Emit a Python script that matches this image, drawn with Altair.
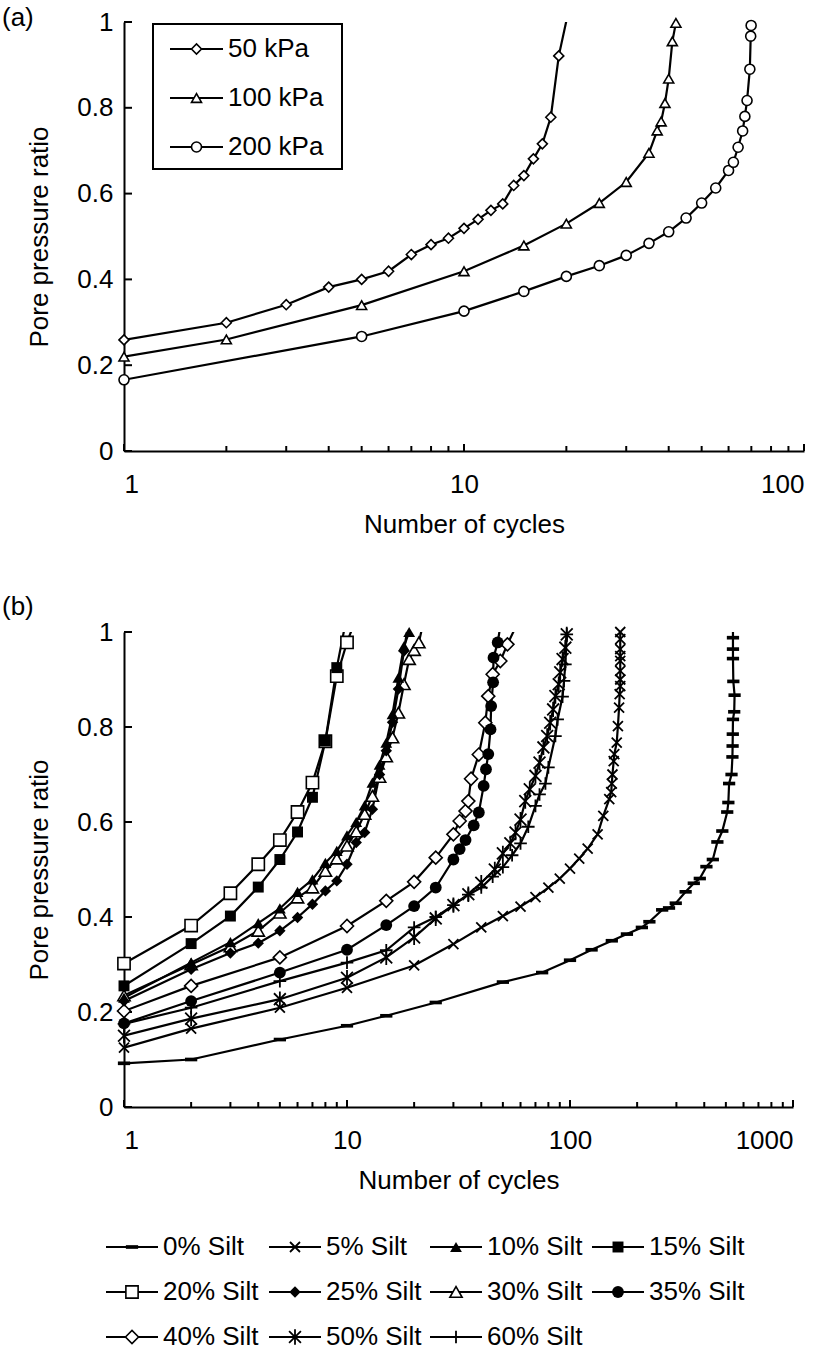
import altair as alt
import pandas as pd

FONT = "Liberation Sans"
FS = 26

# ---------------- (a) confining pressure series ----------------
press_labels = ["50 kPa", "100 kPa", "200 kPa"]
press_shapes = ["diamond", "triangle-up", "circle"]

n_50 = [1, 2, 3, 4, 5, 6, 7, 8, 9, 10, 11, 12, 13, 14, 15, 16, 17, 18, 19, 21]
r_50 = [0.259, 0.299, 0.341, 0.382, 0.400, 0.419, 0.458, 0.481, 0.496, 0.519,
        0.540, 0.561, 0.576, 0.619, 0.642, 0.681, 0.716, 0.778, 0.921, 1.08]
n_100 = [1, 2, 5, 10, 15, 20, 25, 30, 35, 37, 38, 39, 40, 41, 42]
r_100 = [0.220, 0.260, 0.340, 0.419, 0.479, 0.530, 0.578, 0.627, 0.695, 0.747,
         0.768, 0.811, 0.868, 0.955, 0.998]
n_200 = [1, 5, 10, 15, 20, 25, 30, 35, 40, 45, 50, 55, 60, 62, 64, 66, 67, 68,
         69.3, 69.7, 69.9]
r_200 = [0.166, 0.267, 0.326, 0.372, 0.407, 0.432, 0.456, 0.484, 0.511, 0.543,
         0.578, 0.613, 0.654, 0.673, 0.708, 0.746, 0.780, 0.817, 0.890, 0.967, 0.992]

# ---------------- (b) silt content series ----------------
silt_labels = ["0% Silt", "5% Silt", "10% Silt", "15% Silt", "20% Silt", "25% Silt",
               "30% Silt", "35% Silt", "40% Silt", "50% Silt", "60% Silt"]

n_s0 = [1, 2, 5, 10, 15, 25, 50, 75, 100, 125, 154, 180, 210, 227, 259, 278, 298,
        330, 359, 382, 409, 437, 458, 482, 507, 513, 517, 530, 535, 536, 537, 538,
        545, 547, 540, 538, 538, 538, 538]
r_s0 = [0.092, 0.100, 0.142, 0.171, 0.192, 0.220, 0.263, 0.283, 0.309, 0.331, 0.350,
        0.364, 0.378, 0.390, 0.415, 0.419, 0.429, 0.453, 0.471, 0.481, 0.506, 0.521,
        0.558, 0.581, 0.621, 0.641, 0.681, 0.700, 0.737, 0.760, 0.785, 0.816, 0.832,
        0.867, 0.896, 0.944, 0.964, 0.988, 1.03]
n_s5 = [1, 2, 5, 10, 20, 30, 40, 50, 60, 70, 80, 90, 100, 110, 120, 133, 141, 150,
        153, 154, 155, 157, 158, 162, 164, 166, 167, 168, 168, 168, 168, 168, 168,
        168, 168]
r_s5 = [0.125, 0.165, 0.209, 0.251, 0.298, 0.343, 0.378, 0.402, 0.422, 0.442, 0.462,
        0.481, 0.502, 0.523, 0.544, 0.574, 0.613, 0.648, 0.663, 0.681, 0.700, 0.728,
        0.743, 0.767, 0.802, 0.841, 0.869, 0.886, 0.900, 0.918, 0.939, 0.949, 0.964,
        0.985, 1.0]
n_s10 = [1, 2, 3, 4, 5, 6, 7, 8, 9, 10, 11, 12, 13, 14, 15, 16, 17, 18, 19]
r_s10 = [0.230, 0.304, 0.347, 0.387, 0.418, 0.453, 0.479, 0.514, 0.539, 0.572,
         0.600, 0.635, 0.683, 0.721, 0.767, 0.827, 0.904, 0.970, 1.0]
n_s15 = [1, 2, 3, 4, 5, 6, 7, 8, 9, 10]
r_s15 = [0.255, 0.344, 0.402, 0.463, 0.521, 0.579, 0.652, 0.771, 0.925, 1.035]
n_s20 = [1, 2, 3, 4, 5, 6, 7, 8, 9, 10, 11]
r_s20 = [0.302, 0.382, 0.450, 0.511, 0.562, 0.621, 0.683, 0.770, 0.907, 0.978, 1.03]
n_s25 = [1, 2, 3, 4, 5, 6, 7, 8, 9, 10, 11, 12, 13, 14, 15, 16, 17, 18, 19]
r_s25 = [0.223, 0.290, 0.324, 0.345, 0.371, 0.399, 0.427, 0.455, 0.476, 0.511,
         0.557, 0.578, 0.627, 0.700, 0.750, 0.810, 0.880, 0.960, 1.03]
n_s30 = [1, 2, 3, 4, 5, 6, 7, 8, 9, 10, 11, 12, 13, 14, 15, 16, 17, 18, 19, 20, 21, 22]
r_s30 = [0.235, 0.300, 0.338, 0.371, 0.409, 0.441, 0.462, 0.497, 0.523, 0.550,
         0.580, 0.617, 0.655, 0.695, 0.738, 0.778, 0.830, 0.890, 0.943, 0.962,
         0.978, 1.02]
n_s35 = [1, 2, 5, 10, 15, 20, 25, 30, 32, 34, 37, 39, 41, 42, 43, 44, 44.3, 45.2,
         45.4, 47.4, 49]
r_s35 = [0.176, 0.223, 0.283, 0.331, 0.383, 0.423, 0.462, 0.521, 0.543, 0.562,
         0.593, 0.620, 0.676, 0.711, 0.743, 0.795, 0.844, 0.894, 0.946, 0.978, 1.02]
n_s40 = [1, 2, 5, 10, 15, 20, 25, 30, 32, 34, 35, 36, 39, 41.7, 43, 45, 48.7,
         52.4, 57]
r_s40 = [0.202, 0.255, 0.315, 0.381, 0.434, 0.474, 0.525, 0.574, 0.602, 0.623,
         0.644, 0.691, 0.742, 0.809, 0.865, 0.911, 0.939, 0.974, 1.01]
n_s50 = [1, 2, 5, 10, 15, 20, 25, 30, 35, 40, 46, 50, 54, 57, 60, 63, 66, 70, 73,
         76, 79, 81.5, 84, 86, 89, 90.4, 92.6, 95.3, 96.7]
r_s50 = [0.150, 0.186, 0.227, 0.272, 0.315, 0.357, 0.397, 0.425, 0.448, 0.472,
         0.500, 0.534, 0.555, 0.578, 0.605, 0.644, 0.669, 0.697, 0.725, 0.757,
         0.781, 0.809, 0.837, 0.865, 0.890, 0.915, 0.943, 0.967, 0.995]
n_s60 = [1, 2, 5, 10, 15, 20, 25, 30, 35, 40, 45, 50, 55, 60, 65, 70, 73, 77.6,
         80, 86, 88, 92.6, 94, 95.3, 96.7]
r_s60 = [0.175, 0.209, 0.265, 0.304, 0.330, 0.378, 0.400, 0.425, 0.447, 0.462,
         0.485, 0.505, 0.530, 0.555, 0.590, 0.634, 0.658, 0.681, 0.715, 0.781,
         0.816, 0.864, 0.897, 0.932, 0.995]

# axis tick positions
y_ticks = [0, 0.2, 0.4, 0.6, 0.8, 1]
xa_major = [1, 10, 100]
xa_minor = [2, 3, 4, 5, 6, 7, 8, 9, 20, 30, 40, 50, 60, 70, 80, 90]
xb_major = [1, 10, 100, 1000]
xb_minor = xa_minor + [200, 300, 400, 500, 600, 700, 800, 900]

# marker glyphs
DASH = "M-1,-0.3H1V0.3H-1Z"
XMARK = "M-1,-1L1,1M-1,1L1,-1"
ASTER = "M-1,-1L1,1M-1,1L1,-1M0,-1.3V1.3"
PLUS = "M0,-1V1M-1,0H1"
silt_shapes = [DASH, XMARK, "triangle-up", "square", "square", "diamond",
               "triangle-up", "circle", "diamond", ASTER, PLUS]
silt_kind = ["solid", "stroke", "solid", "solid", "open", "solid", "open", "solid",
             "open", "stroke", "stroke"]
silt_size = [150, 100, 140, 120, 150, 130, 150, 140, 170, 140, 160]


def long_frame(names, ns, rs):
    rows = []
    for name, n_list, r_list in zip(names, ns, rs):
        for i, (n, r) in enumerate(zip(n_list, r_list)):
            rows.append({"series": name, "N": n, "ratio": r, "seq": i})
    return pd.DataFrame(rows)


df_a = long_frame(press_labels, [n_50, n_100, n_200], [r_50, r_100, r_200])
df_b = long_frame(silt_labels,
                  [n_s0, n_s5, n_s10, n_s15, n_s20, n_s25, n_s30, n_s35, n_s40, n_s50, n_s60],
                  [r_s0, r_s5, r_s10, r_s15, r_s20, r_s25, r_s30, r_s35, r_s40, r_s50, r_s60])
kind_of = dict(zip(silt_labels, silt_kind))
size_of = dict(zip(silt_labels, silt_size))
df_b["kind"] = df_b["series"].map(kind_of)
df_b["msize"] = df_b["series"].map(size_of)

WA, HA = 680, 429
WB, HB = 669, 475


def axes_frame(domain_x, major, minor, height, tag_text, tag_y):
    x_enc = alt.X("N:Q", scale=alt.Scale(type="log", domain=domain_x),
                  axis=alt.Axis(values=major, format="d", title="Number of cycles",
                                labelPadding=20, titlePadding=14))
    y_enc = alt.Y("ratio:Q", scale=alt.Scale(domain=[0, 1]),
                  axis=alt.Axis(values=y_ticks, format="~g", title="Pore pressure ratio",
                                labelPadding=11, titlePadding=24))
    tick_major = alt.Chart(pd.DataFrame({"N": major})).mark_rule(
        color="black", strokeWidth=2).encode(
        x=x_enc, y=alt.value(height), y2=alt.value(height - 7))
    tick_minor = alt.Chart(pd.DataFrame({"N": minor})).mark_rule(
        color="black", strokeWidth=2).encode(
        x=x_enc, y=alt.value(height), y2=alt.value(height - 5))
    tick_y = alt.Chart(pd.DataFrame({"ratio": y_ticks})).mark_rule(
        color="black", strokeWidth=2).encode(
        y=y_enc, x=alt.value(0), x2=alt.value(8))
    tag = alt.Chart(pd.DataFrame({"t": [tag_text]})).mark_text(
        align="left", baseline="middle", font=FONT, fontSize=FS, color="black").encode(
        x=alt.value(-122), y=alt.value(tag_y), text="t:N")
    return x_enc, y_enc, [tick_major, tick_minor, tick_y, tag]


# ---------------- panel (a) ----------------
xa_enc, ya_enc, frame_a = axes_frame([1, 100], xa_major, xa_minor, HA, "(a)", -4)
shape_a = alt.Shape("series:N", scale=alt.Scale(domain=press_labels, range=press_shapes),
                    legend=None)
lines_a = alt.Chart(df_a).mark_line(color="black", strokeWidth=2.2, clip=True).encode(
    x=xa_enc, y=ya_enc, detail="series:N", order="seq:Q")
points_a = alt.Chart(df_a).transform_filter("datum.ratio <= 1").mark_point(
    filled=True, fill="white", stroke="black", strokeWidth=1.6, size=100, opacity=1
).encode(x=xa_enc, y=ya_enc, shape=shape_a)
data_a = alt.layer(*frame_a, lines_a, points_a)

leg_a = pd.DataFrame({"series": press_labels, "row": [0, 1, 2]})
leg_a["ly"] = 27 + leg_a["row"] * 49
ly_enc = alt.Y("ly:Q", scale=None, axis=None)
box_a = alt.Chart(pd.DataFrame({"k": [0]})).mark_rect(
    fill="white", stroke="black", strokeWidth=2).encode(
    x=alt.value(29), x2=alt.value(218), y=alt.value(2), y2=alt.value(147))
leg_lines_a = alt.Chart(leg_a).mark_rule(color="black", strokeWidth=2.2).encode(
    x=alt.value(46), x2=alt.value(99), y=ly_enc)
leg_pts_a = alt.Chart(leg_a).mark_point(
    filled=True, fill="white", stroke="black", strokeWidth=1.6, size=100, opacity=1
).encode(x=alt.value(72.5), y=ly_enc, shape=shape_a)
leg_txt_a = alt.Chart(leg_a).mark_text(
    align="left", baseline="middle", font=FONT, fontSize=FS, color="black").encode(
    x=alt.value(104), y=ly_enc, text="series:N")
legend_a = alt.layer(box_a, leg_lines_a, leg_pts_a, leg_txt_a)

panel_a = alt.layer(data_a, legend_a).resolve_scale(y="independent").properties(
    width=WA, height=HA)

# ---------------- panel (b) ----------------
xb_enc, yb_enc, frame_b = axes_frame([1, 1000], xb_major, xb_minor, HB, "(b)", -25)
shape_b = alt.Shape("series:N", scale=alt.Scale(domain=silt_labels, range=silt_shapes),
                    legend=None)
size_b = alt.Size("msize:Q", scale=None, legend=None)
lines_b = alt.Chart(df_b).mark_line(color="black", strokeWidth=2.2, clip=True).encode(
    x=xb_enc, y=yb_enc, detail="series:N", order="seq:Q")
base_pts = alt.Chart(df_b).transform_filter("datum.ratio <= 1")
pts_stroke = base_pts.transform_filter("datum.kind == 'stroke'").mark_point(
    filled=False, stroke="black", strokeWidth=1.8, opacity=1).encode(
    x=xb_enc, y=yb_enc, shape=shape_b, size=size_b)
pts_open = base_pts.transform_filter("datum.kind == 'open'").mark_point(
    filled=True, fill="white", stroke="black", strokeWidth=1.6, opacity=1).encode(
    x=xb_enc, y=yb_enc, shape=shape_b, size=size_b)
pts_solid = base_pts.transform_filter("datum.kind == 'solid'").mark_point(
    filled=True, color="black", opacity=1).encode(
    x=xb_enc, y=yb_enc, shape=shape_b, size=size_b)
data_b = alt.layer(*frame_b, lines_b, pts_stroke, pts_open, pts_solid)

# legend grid placed below the plot area of (b)
col_x = [-18, 145, 306, 468]
row_y = [615, 660, 705]
leg_b = pd.DataFrame({"series": silt_labels, "kind": silt_kind})
leg_b["msize"] = leg_b["series"].map(size_of)
leg_b["lx"] = [col_x[i % 4] for i in range(len(silt_labels))]
leg_b["lx2"] = leg_b["lx"] + 52
leg_b["mx"] = leg_b["lx"] + 26
leg_b["tx"] = leg_b["lx"] + 57
leg_b["ly"] = [row_y[i // 4] for i in range(len(silt_labels))]

lyb = alt.Y("ly:Q", scale=None, axis=None)
lb_lines = alt.Chart(leg_b).mark_rule(color="black", strokeWidth=2.2).encode(
    x=alt.X("lx:Q", scale=None, axis=None), x2="lx2:Q", y=lyb)
lb_base = alt.Chart(leg_b)
lb_stroke = lb_base.transform_filter("datum.kind == 'stroke'").mark_point(
    filled=False, stroke="black", strokeWidth=1.8, opacity=1).encode(
    x=alt.X("mx:Q", scale=None, axis=None), y=lyb, shape=shape_b, size=size_b)
lb_open = lb_base.transform_filter("datum.kind == 'open'").mark_point(
    filled=True, fill="white", stroke="black", strokeWidth=1.6, opacity=1).encode(
    x=alt.X("mx:Q", scale=None, axis=None), y=lyb, shape=shape_b, size=size_b)
lb_solid = lb_base.transform_filter("datum.kind == 'solid'").mark_point(
    filled=True, color="black", opacity=1).encode(
    x=alt.X("mx:Q", scale=None, axis=None), y=lyb, shape=shape_b, size=size_b)
lb_text = alt.Chart(leg_b).mark_text(
    align="left", baseline="middle", font=FONT, fontSize=FS, color="black").encode(
    x=alt.X("tx:Q", scale=None, axis=None), y=lyb, text="series:N")
legend_b = alt.layer(lb_lines, lb_stroke, lb_open, lb_solid, lb_text)

panel_b = alt.layer(data_b, legend_b).resolve_scale(
    x="independent", y="independent").properties(width=WB, height=HB)

chart = alt.vconcat(panel_a, panel_b, spacing=57).resolve_scale(
    shape="independent"
).properties(
    padding={"left": 2, "top": 5, "right": 0, "bottom": 0}
).configure_view(stroke=None).configure_axis(
    grid=False, ticks=False, tickSize=0, domainColor="black", domainWidth=2,
    labelFont=FONT, labelFontSize=FS, labelColor="black",
    titleFont=FONT, titleFontSize=FS, titleFontWeight="normal", titleColor="black"
)

chart.save("out.html", embed_options={"renderer": "svg", "actions": False})
